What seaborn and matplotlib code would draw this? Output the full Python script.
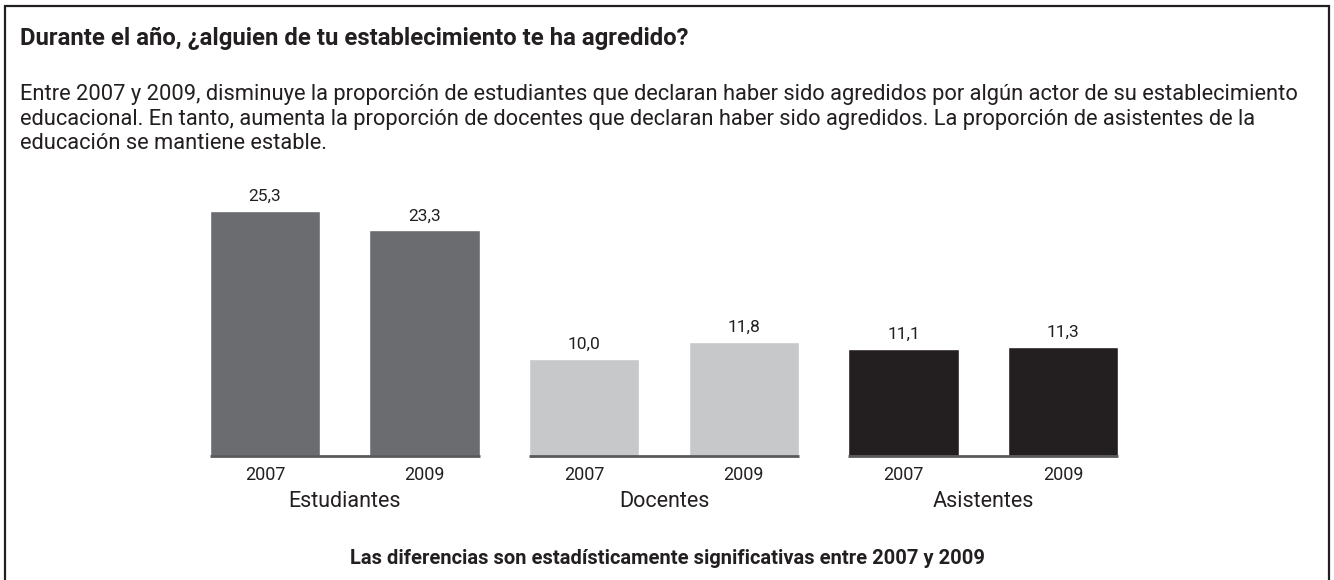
import numpy as np
import pandas as pd
import seaborn as sns
import matplotlib.pyplot as plt
from matplotlib.patches import Rectangle

# data
groups = ['Estudiantes', 'Docentes', 'Asistentes']
years = ['2007', '2009']
estudiantes = [25.3, 23.3]
docentes = [10.0, 11.8]
asistentes = [11.1, 11.3]
group_colors = ['#6b6c70', '#c7c8ca', '#231f20']

title = 'Durante el año, ¿alguien de tu establecimiento te ha agredido?'
body = ['Entre 2007 y 2009, disminuye la proporción de estudiantes que declaran haber sido agredidos por algún actor de su establecimiento',
        'educacional. En tanto, aumenta la proporción de docentes que declaran haber sido agredidos. La proporción de asistentes de la',
        'educación se mantiene estable.']
note = 'Las diferencias son estadísticamente significativas entre 2007 y 2009'

values = estudiantes + docentes + asistentes
bars = [g + ' ' + y for g in groups for y in years]
df = pd.DataFrame({'bar': bars, 'value': values})
palette = {b: group_colors[i // 2] for i, b in enumerate(bars)}

sns.set_theme(style='white')
plt.rcParams['font.family'] = ['Roboto', 'DejaVu Sans']
ink = '#231f20'

W, H = 1334, 580
fig = plt.figure(figsize=(W / 100, H / 100), dpi=100)
ax = fig.add_axes([185 / W, (H - 456) / H, 958 / W, 245 / H])

bw = 0.69
sns.barplot(data=df, x='bar', y='value', hue='bar', palette=palette, order=bars,
            width=bw, legend=False, saturation=1, ax=ax)
for c in ax.containers:
    ax.bar_label(c, labels=[f'{v:.1f}'.replace('.', ',') for v in c.datavalues],
                 padding=5, fontsize=12.5, color=ink)

ax.set_xlim(-0.5, len(bars) - 0.5)
ax.set_ylim(0, max(values))
ax.set_xticks(range(len(bars)))
ax.set_xticklabels([y for g in groups for y in years], fontsize=13, color=ink)
ax.tick_params(axis='x', length=0, pad=7)
ax.set_yticks([])
ax.set_xlabel('')
ax.set_ylabel('')
for s in ax.spines.values():
    s.set_visible(False)

# baseline under each pair + group label
for i, g in enumerate(groups):
    x0, x1 = 2 * i - bw / 2, 2 * i + 1 + bw / 2
    ax.plot([x0, x1], [0, 0], color='#58595b', lw=2, solid_capstyle='butt', clip_on=False)
    ax.text(2 * i + 0.5, -0.184, g, transform=ax.get_xaxis_transform(),
            ha='center', va='center', fontsize=15.5, color=ink)

fig.text(20 / W, 1 - 45 / H, title, fontsize=17.2, fontweight='bold', color=ink, va='baseline')
for k, line in enumerate(body):
    fig.text(20 / W, 1 - (100 + 24.5 * k) / H, line, fontsize=15.75, color=ink, va='baseline')
fig.text(0.5, 1 - 558 / H, note, fontsize=14.5, fontweight='bold', color=ink, ha='center', va='center')

fig.add_artist(Rectangle((5 / W, -0.1), 1324 / W, 1.1 - 6 / H, transform=fig.transFigure,
                         fill=False, edgecolor=ink, lw=1.6, clip_on=False))

fig.savefig('out.png', dpi=100)
